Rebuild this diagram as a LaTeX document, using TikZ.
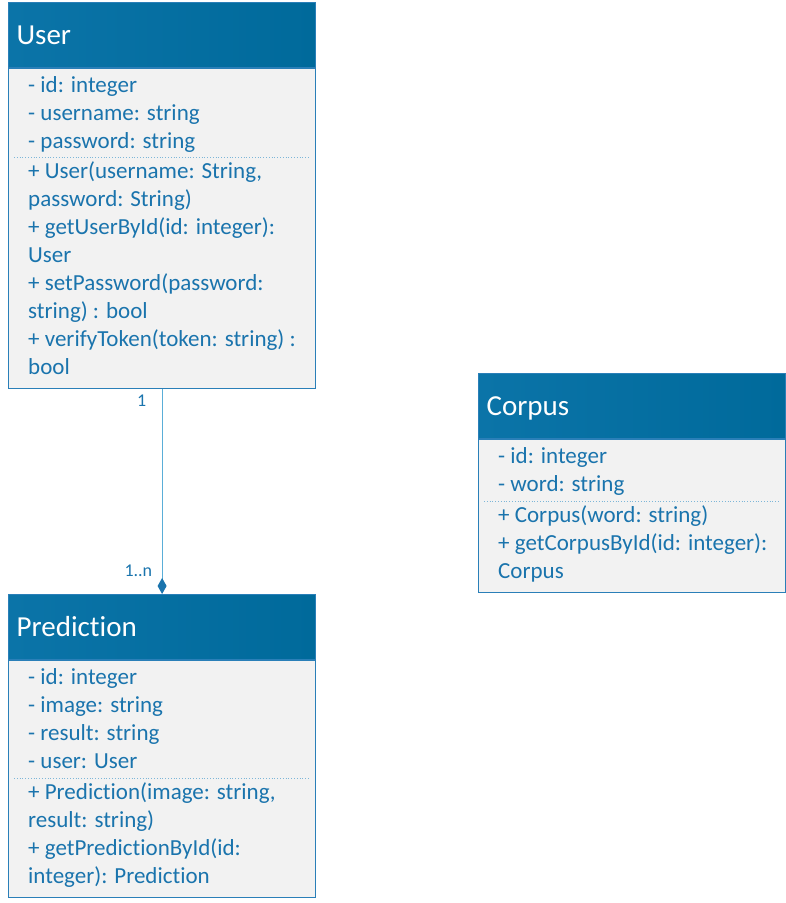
\documentclass[tikz,border=0pt]{standalone}
\usepackage{fontspec}
\setmainfont[Ligatures=NoCommon]{Carlito}
\usepackage{tikz}
\usetikzlibrary{positioning,arrows.meta}

\definecolor{headleft}{HTML}{0B74A8}
\definecolor{headmid}{HTML}{0482BD}
\definecolor{headright}{HTML}{006A9B}
\definecolor{umltext}{HTML}{1A74AD}
\definecolor{umlborder}{HTML}{2A7FB8}
\definecolor{umlfill}{HTML}{F2F2F2}
\definecolor{umlsep}{HTML}{7DB6D8}
\definecolor{umllink}{HTML}{5AAED8}

\tikzset{
  classhead/.style={anchor=north west, minimum width=307pt, minimum height=65pt,
    text width=291pt, inner xsep=8pt, inner ysep=0pt, text height=19pt, text depth=0pt,
    left color=headleft, middle color=headmid, right color=headright,
    draw=umlborder, line width=1.2pt, text=white, font=\fontsize{29}{34}\selectfont},
  classbody/.style={anchor=north west, minimum width=307pt, draw=umlborder,
    fill=umlfill, line width=1.2pt},
  members/.style={inner sep=0pt, align=left, text=umltext,
    font=\fontsize{23}{28}\selectfont},
  sepline/.style={draw=umlsep, dotted, line width=0.8pt},
  multiplicity/.style={text=umltext, font=\fontsize{18}{22}\selectfont}
}

\begin{document}
\begin{tikzpicture}[x=1pt,y=-1pt]
  \useasboundingbox (0,0) rectangle (786,903);

  % User
  \node[classhead] (user) at (8,2) {User};
  \node[classbody, minimum height=320pt] (userbody) at (user.south west) {};
  \node[members, below right=4pt and 20pt of userbody.north west] (userattr)
    {\strut- id: integer\\- username: string\\- password: string};
  \coordinate (usersep) at ([yshift=-89pt]userbody.north west);
  \draw[sepline] ([xshift=6pt]usersep) -- ([xshift=301pt]usersep);
  \node[members, below right=1.5pt and 20pt of usersep] (usermeth)
    {\strut+ User(username: String,\\password: String)\\+ getUserById(id: integer):\\User\\+ setPassword(password:\\string) : bool\\+ verifyToken(token: string) :\\bool};

  % Corpus
  \node[classhead] (corpus) at (478,373) {Corpus};
  \node[classbody, minimum height=153pt] (corpusbody) at (corpus.south west) {};
  \node[members, below right=4pt and 20pt of corpusbody.north west] (corpusattr)
    {\strut- id: integer\\- word: string};
  \coordinate (corpussep) at ([yshift=-62pt]corpusbody.north west);
  \draw[sepline] ([xshift=6pt]corpussep) -- ([xshift=301pt]corpussep);
  \node[members, below right=1.5pt and 20pt of corpussep] (corpusmeth)
    {\strut+ Corpus(word: string)\\+ getCorpusById(id: integer):\\Corpus};

  % Prediction
  \node[classhead] (pred) at (8,594) {Prediction};
  \node[classbody, minimum height=237pt] (predbody) at (pred.south west) {};
  \node[members, below right=4pt and 20pt of predbody.north west] (predattr)
    {\strut- id: integer\\- image: string\\- result: string\\- user: User};
  \coordinate (predsep) at ([yshift=-118pt]predbody.north west);
  \draw[sepline] ([xshift=6pt]predsep) -- ([xshift=301pt]predsep);
  \node[members, below right=1.5pt and 20pt of predsep] (predmeth)
    {\strut+ Prediction(image: string,\\result: string)\\+ getPredictionById(id:\\integer): Prediction};

  % association User -- Prediction
  \draw[umllink, line width=1.2pt, -{Diamond[length=16pt,width=9pt,umltext]}]
    (userbody.south) -- (pred.north)
    node[multiplicity, pos=0, below left=2pt and 12pt] {1}
    node[multiplicity, pos=1, above left=13pt and 6pt] {1..n};
\end{tikzpicture}
\end{document}
